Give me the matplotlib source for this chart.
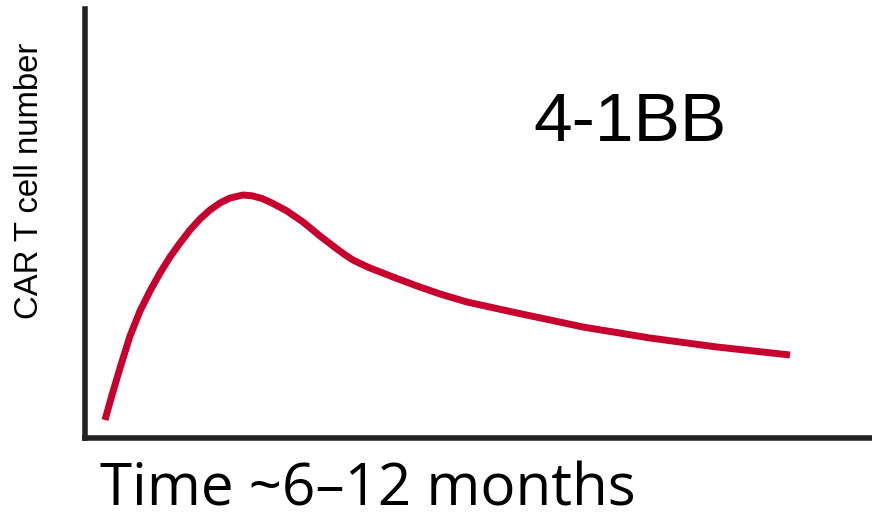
import numpy as np
import matplotlib
matplotlib.use("Agg")
from matplotlib import pyplot as plt

# curve (arbitrary units, axes span 0-100 both ways)
time = [2.54, 3.43, 4.45, 5.72, 6.99, 8.26, 9.53, 10.80, 12.07, 13.34, 14.61,
        15.88, 17.15, 18.42, 20.08, 21.22, 22.49, 23.76, 25.67, 27.70, 29.86,
        32.02, 33.04, 34.05, 35.20, 36.21, 39.14, 42.19, 45.11, 48.54, 54.89,
        59.09, 63.28, 71.79, 80.31, 89.58]
cells = [4.20, 10.02, 16.32, 23.78, 29.60, 34.27, 38.46, 42.19, 45.45, 48.48,
         51.05, 53.15, 54.78, 55.94, 56.64, 56.46, 55.83, 54.78, 52.91, 50.35,
         47.09, 44.06, 42.70, 41.49, 40.47, 39.63, 37.53, 35.43, 33.57, 31.70,
         29.14, 27.51, 25.87, 23.31, 21.21, 19.35]

label_text = "4-1BB"
xlabel = "Time ~6\u201312 months"
ylabel = "CAR T cell number"

fig = plt.figure(figsize=(8.72, 5.21), dpi=100)
ax = fig.add_axes([85/872, 83/521, 787/872, 429/521])

ax.plot(time, cells, color="#C8002E", lw=5, solid_capstyle="butt",
        solid_joinstyle="round")

ax.set_xlim(0, 100)
ax.set_ylim(0, 100)
ax.set_xticks([])
ax.set_yticks([])
for s in ["top", "right"]:
    ax.spines[s].set_visible(False)
for s in ["left", "bottom"]:
    ax.spines[s].set_linewidth(4)
    ax.spines[s].set_color("#222222")

ax.text(69.2, 73.5, label_text, fontsize=50, family="Liberation Sans",
        ha="center", va="center")
fig.text(100/872, 1 - 506/521, xlabel, fontsize=42, family="Open Sans",
         ha="left", va="baseline")
fig.text(30/872, 1 - 181/521, ylabel, fontsize=23.7, family="Liberation Sans",
         rotation=90, ha="center", va="center")

fig.savefig("out.png", dpi=100)
